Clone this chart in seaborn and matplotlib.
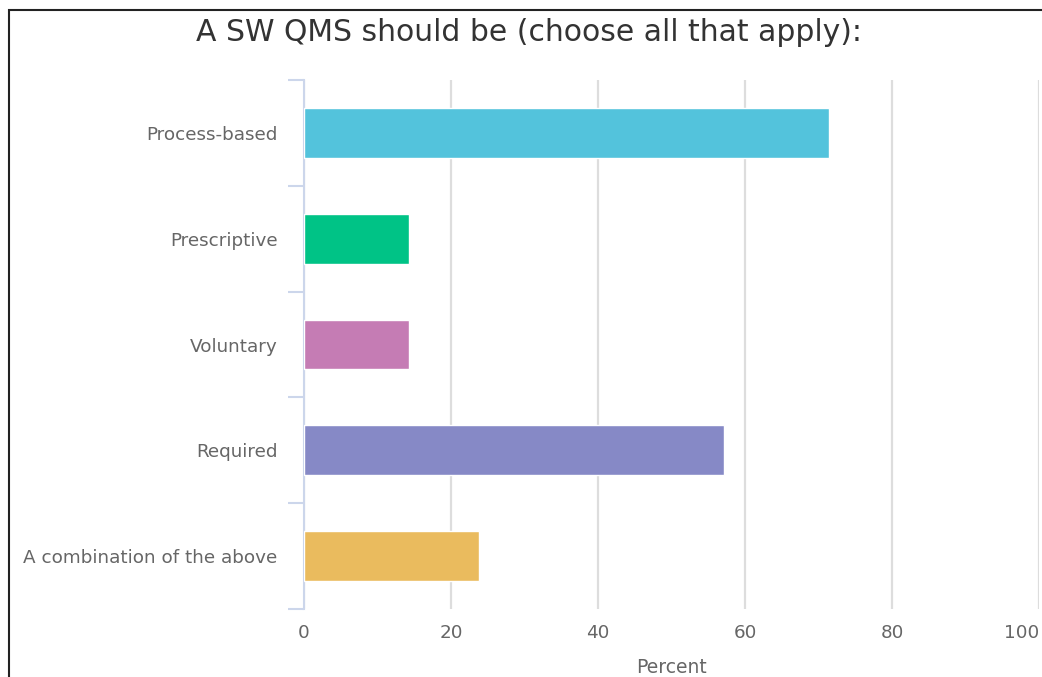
import matplotlib
matplotlib.use("Agg")
import matplotlib.pyplot as plt
import seaborn as sns
import pandas as pd
from matplotlib.patches import Rectangle

# chart data
categories = ['Process-based', 'Prescriptive', 'Voluntary', 'Required', 'A combination of the above']
percent = [71.4, 14.3, 14.3, 57.1, 23.8]
bar_colors = ['#53c3dc', '#00c386', '#c57cb4', '#8689c6', '#eabb5e']
x_ticks = [0, 20, 40, 60, 80, 100]

df = pd.DataFrame({'category': categories, 'percent': percent})

sns.set_style("white")
plt.rcParams['font.family'] = ['DejaVu Sans']

fig = plt.figure(figsize=(10.42, 6.77), dpi=100)
ax = fig.add_axes([304 / 1042, 1 - 609 / 677, 735 / 1042, 529 / 677])

sns.barplot(data=df, x='percent', y='category', hue='category', palette=bar_colors,
            saturation=1, legend=False, width=0.47, edgecolor='white', linewidth=1,
            ax=ax, zorder=3)

ax.set_xlim(0, 100)
ax.set_ylim(len(categories) - 0.5, -0.5)
ax.set_xticks(x_ticks)
ax.xaxis.grid(True, color='#dddddd', linewidth=1.6, zorder=0)
ax.set_axisbelow(True)

for s in ['top', 'right', 'bottom']:
    ax.spines[s].set_visible(False)
ax.spines['left'].set_color('#ccd6eb')
ax.spines['left'].set_linewidth(1.5)

# category tick marks between bars
ax.set_yticks([i - 0.5 for i in range(len(categories) + 1)], minor=True)
ax.tick_params(axis='y', which='minor', left=True, length=11.5, color='#ccd6eb', width=1.5)
ax.tick_params(axis='y', which='major', length=0, pad=19, labelsize=13.2, labelcolor='#666666')
ax.tick_params(axis='x', length=0, pad=11, labelsize=13.2, labelcolor='#666666')

# last x label kept inside the figure
xlabels = ax.get_xticklabels()
xlabels[-1].set_horizontalalignment('right')
xlabels[-1].set_x(100)

ax.set_ylabel('')
ax.set_xlabel('Percent', fontsize=13.5, color='#666666', labelpad=11)

fig.suptitle('A SW QMS should be (choose all that apply):', x=0.508, y=0.973,
             fontsize=21.5, color='#333333', va='top')

# outer frame
fig.patches.append(Rectangle((9 / 1042, -0.1), 1.2, 1 - 10 / 677 + 0.1,
                             transform=fig.transFigure, fill=False,
                             edgecolor='#222222', linewidth=1.5))

fig.savefig('out.png', dpi=100)
